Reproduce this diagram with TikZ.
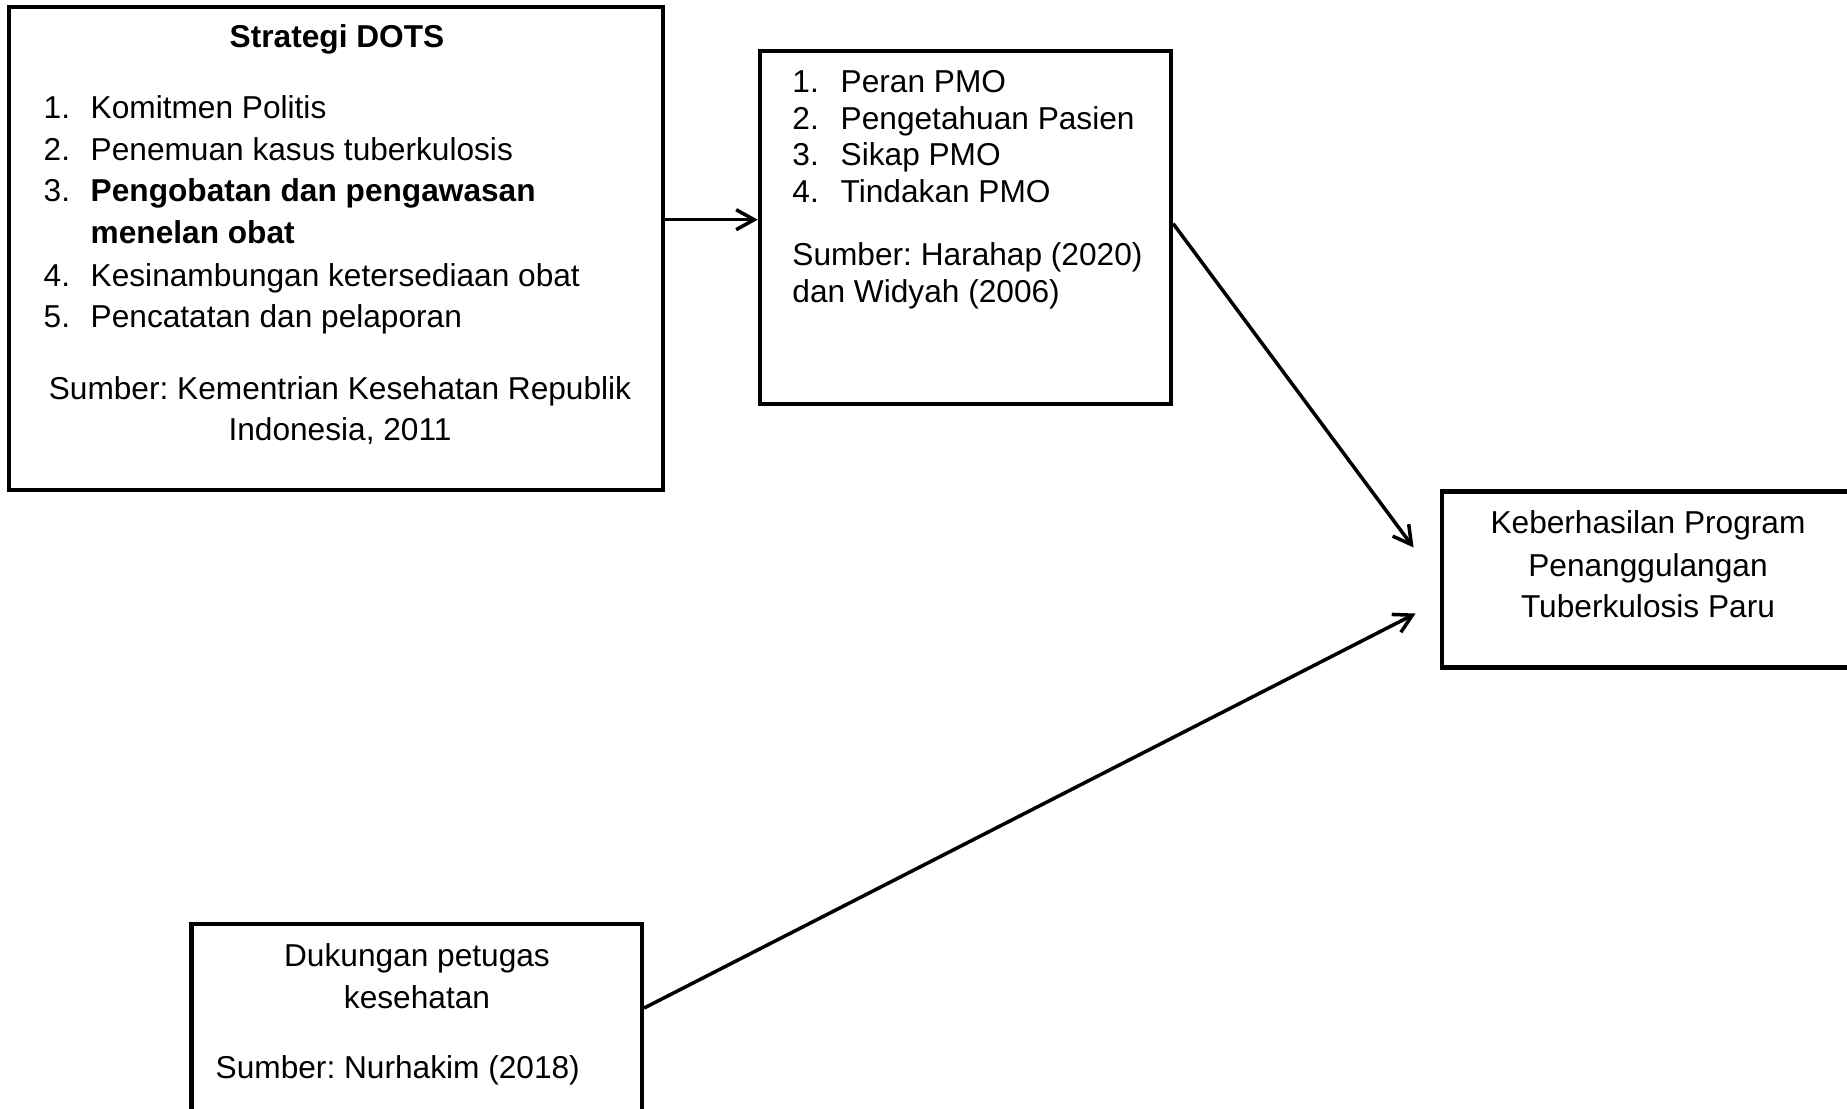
\documentclass[tikz,border=0pt]{standalone}
\usepackage{fontspec}
\setmainfont{Liberation Sans}
\usetikzlibrary{arrows.meta,calc}
\frenchspacing

\begin{document}
\begin{tikzpicture}[x=0.01cm, y=-0.01cm,
  box/.style={draw, line width=1.2pt, inner sep=0pt},
  txt/.style={inner sep=0pt, font=\fontsize{9}{11}\selectfont},
  txtb/.style={inner sep=0pt, font=\fontsize{9}{11}\selectfont\bfseries},
  arr/.style={-{Straight Barb[length=1.8mm, width=2mm]}, line width=1pt}
]
  \useasboundingbox (0,0) rectangle (1847,1108);
  \clip (0,0) rectangle (1847,1108);

  % Boxes
  \node[box, minimum width=6.54cm, minimum height=4.83cm] (dots) at (336,248.5) {};
  \node[box, minimum width=4.11cm, minimum height=3.53cm] (pmo) at (965.5,227.3) {};
  \node[box, minimum width=4.58cm, minimum height=1.76cm] (goal) at (1670.8,579.5) {};
  \node[box, minimum width=4.50cm, minimum height=2.16cm] (dukungan) at (416.7,1032) {};

  % Strategi DOTS
  \node[txtb, anchor=base] (dotstitle) at (337,47.7) {Strategi DOTS};
  \node[txt, anchor=base west] (dn1) at (43,118.3) {1.};
  \node[txt, anchor=base west] (d1) at (90,118.3) {Komitmen Politis};
  \node[txt, anchor=base west] (dn2) at (43,160) {2.};
  \node[txt, anchor=base west] (d2) at (90,160) {Penemuan kasus tuberkulosis};
  \node[txt, anchor=base west] (dn3) at (43,201.7) {3.};
  \node[txtb, anchor=base west] (d3) at (90,201.7) {Pengobatan dan pengawasan};
  \node[txtb, anchor=base west] (d3b) at (90,243.3) {menelan obat};
  \node[txt, anchor=base west] (dn4) at (43,286) {4.};
  \node[txt, anchor=base west] (d4) at (90,286) {Kesinambungan ketersediaan obat};
  \node[txt, anchor=base west] (dn5) at (43,327.3) {5.};
  \node[txt, anchor=base west] (d5) at (90,327.3) {Pencatatan dan pelaporan};
  \node[txt, anchor=base] (dsrc1) at (340,399) {Sumber: Kementrian Kesehatan Republik};
  \node[txt, anchor=base] (dsrc2) at (340,440) {Indonesia, 2011};

  % PMO
  \node[txt, anchor=base west] (pn1) at (791.7,92.3) {1.};
  \node[txt, anchor=base west] (p1) at (840,92.3) {Peran PMO};
  \node[txt, anchor=base west] (pn2) at (791.7,129) {2.};
  \node[txt, anchor=base west] (p2) at (840,129) {Pengetahuan Pasien};
  \node[txt, anchor=base west] (pn3) at (791.7,165.7) {3.};
  \node[txt, anchor=base west] (p3) at (840,165.7) {Sikap PMO};
  \node[txt, anchor=base west] (pn4) at (791.7,202.3) {4.};
  \node[txt, anchor=base west] (p4) at (840,202.3) {Tindakan PMO};
  \node[txt, anchor=base west] (psrc1) at (791.7,265.7) {Sumber: Harahap (2020)};
  \node[txt, anchor=base west] (psrc2) at (791.7,302.3) {dan Widyah (2006)};

  % Keberhasilan
  \node[txt, anchor=base] (g1) at (1648,533.3) {Keberhasilan Program};
  \node[txt, anchor=base] (g2) at (1648,576) {Penanggulangan};
  \node[txt, anchor=base] (g3) at (1648,617.5) {Tuberkulosis Paru};

  % Dukungan petugas
  \node[txt, anchor=base] (k1) at (417,966.7) {Dukungan petugas};
  \node[txt, anchor=base] (k2) at (417,1008.3) {kesehatan};
  \node[txt, anchor=base west] (ksrc) at (215,1078) {Sumber: Nurhakim (2018)};

  % Arrows
  \coordinate (tip1) at ($(goal.west)+(-26,-32)$);
  \coordinate (tip2) at ($(goal.west)+(-24,34)$);
  \draw[arr] (dots.5) -- (dots.5 -| pmo.west);
  \draw[arr] (pmo.1.1) -- (tip1);
  \draw[arr] (dukungan.6.1) -- (tip2);
\end{tikzpicture}
\end{document}
